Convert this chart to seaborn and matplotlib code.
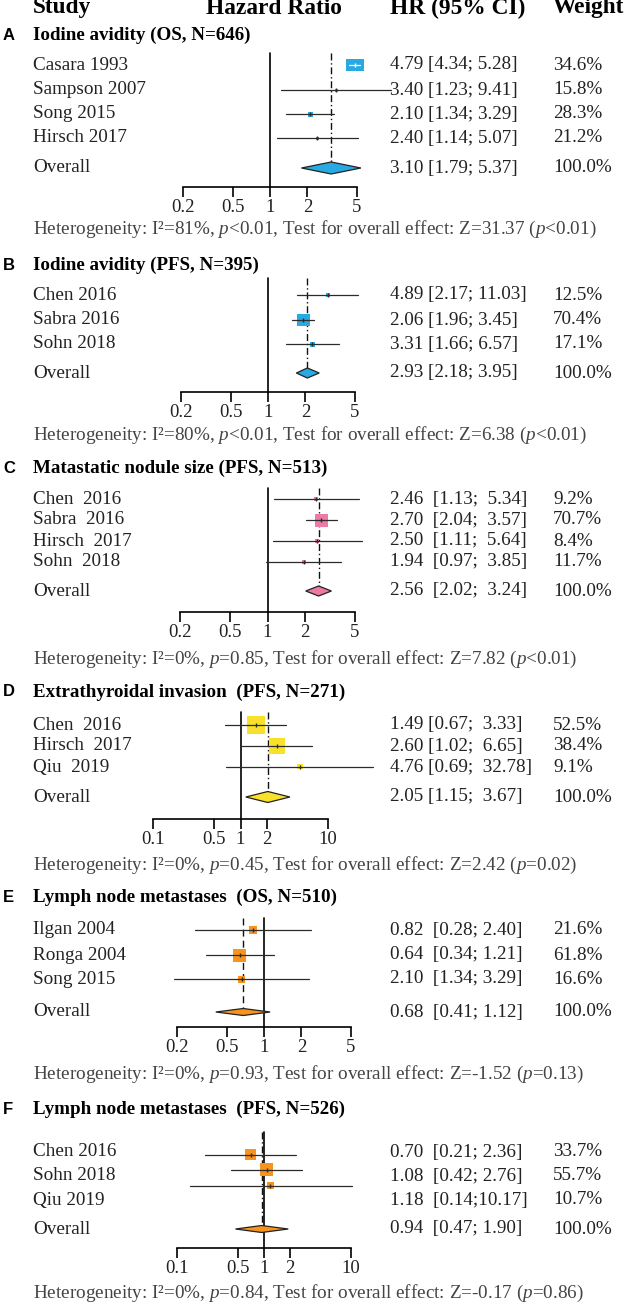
import numpy as np
import matplotlib
matplotlib.use("Agg")
import matplotlib.pyplot as plt
from matplotlib.path import Path
from matplotlib.markers import MarkerStyle
from matplotlib.ticker import NullLocator
import seaborn as sns

# ---------------- data ----------------
# A: Iodine avidity (OS)
studies_a = ["Casara 1993", "Sampson 2007", "Song 2015", "Hirsch 2017"]
est_a = [4.79, 3.40, 2.10, 2.40]
lo_a = [4.34, 1.23, 1.34, 1.14]
hi_a = [5.28, 9.41, 3.29, 5.07]
pool_a = [3.10, 1.79, 5.37]
hr_a = ["4.79 [4.34; 5.28]", "3.40 [1.23; 9.41]", "2.10 [1.34; 3.29]",
        "2.40 [1.14; 5.07]", "3.10 [1.79; 5.37]"]
wt_a = ["34.6%", "15.8%", "28.3%", "21.2%", "100.0%"]
het_a = ["81%", "<0.01", "31.37", "<0.01"]

# B: Iodine avidity (PFS) - marks as drawn in the figure
studies_b = ["Chen 2016", "Sabra 2016", "Sohn 2018"]
est_b = [3.05, 1.92, 2.27]
lo_b = [1.72, 1.57, 1.40]
hi_b = [5.30, 2.36, 3.74]
pool_b = [2.07, 1.69, 2.58]
hr_b = ["4.89 [2.17; 11.03]", "2.06 [1.96; 3.45]", "3.31 [1.66; 6.57]",
        "2.93 [2.18; 3.95]"]
wt_b = ["12.5%", "70.4%", "17.1%", "100.0%"]
het_b = ["80%", "<0.01", "6.38", "<0.01"]

# C: Metastatic nodule size (PFS)
studies_c = ["Chen  2016", "Sabra  2016", "Hirsch  2017", "Sohn  2018"]
est_c = [2.46, 2.70, 2.50, 1.94]
lo_c = [1.13, 2.04, 1.11, 0.97]
hi_c = [5.34, 3.57, 5.64, 3.85]
pool_c = [2.56, 2.02, 3.24]
hr_c = ["2.46  [1.13;  5.34]", "2.70  [2.04;  3.57]", "2.50  [1.11;  5.64]",
        "1.94  [0.97;  3.85]", "2.56  [2.02;  3.24]"]
wt_c = ["9.2%", "70.7%", "8.4%", "11.7%", "100.0%"]
het_c = ["0%", "=0.85", "7.82", "<0.01"]

# D: Extrathyroidal invasion (PFS)
studies_d = ["Chen  2016", "Hirsch  2017", "Qiu  2019"]
est_d = [1.49, 2.60, 4.76]
lo_d = [0.67, 1.02, 0.69]
hi_d = [3.33, 6.65, 32.78]
pool_d = [2.05, 1.15, 3.67]
hr_d = ["1.49 [0.67;  3.33]", "2.60 [1.02;  6.65]", "4.76 [0.69;  32.78]",
        "2.05 [1.15;  3.67]"]
wt_d = ["52.5%", "38.4%", "9.1%", "100.0%"]
het_d = ["0%", "=0.45", "2.42", "=0.02"]

# E: Lymph node metastases (OS) - marks as drawn
studies_e = ["Ilgan 2004", "Ronga 2004", "Song 2015"]
est_e = [0.82, 0.64, 0.66]
lo_e = [0.28, 0.34, 0.19]
hi_e = [2.40, 1.21, 2.30]
pool_e = [0.68, 0.41, 1.12]
hr_e = ["0.82  [0.28; 2.40]", "0.64  [0.34; 1.21]", "2.10  [1.34; 3.29]",
        "0.68  [0.41; 1.12]"]
wt_e = ["21.6%", "61.8%", "16.6%", "100.0%"]
het_e = ["0%", "=0.93", "-1.52", "=0.13"]

# F: Lymph node metastases (PFS)
studies_f = ["Chen 2016", "Sohn 2018", "Qiu 2019"]
est_f = [0.70, 1.08, 1.18]
lo_f = [0.21, 0.42, 0.14]
hi_f = [2.36, 2.76, 10.17]
pool_f = [0.94, 0.47, 1.90]
hr_f = ["0.70  [0.21; 2.36]", "1.08  [0.42; 2.76]", "1.18  [0.14;10.17]",
        "0.94  [0.47; 1.90]"]
wt_f = ["33.7%", "55.7%", "10.7%", "100.0%"]
het_f = ["0%", "=0.84", "-0.17", "=0.86"]

ticks_narrow = [0.2, 0.5, 1, 2, 5]
ticks_wide = [0.1, 0.5, 1, 2, 10]

# ---------------- layout (pixels) ----------------
W, H = 626, 1305
SERIF = "Liberation Serif"
panels = [
    dict(letter="A", title="Iodine avidity (OS, N=646)", title_y=35,
         studies=studies_a, est=est_a, lo=lo_a, hi=hi_a, pool=pool_a, hr=hr_a, wt=wt_a, het=het_a,
         rows=[65, 90, 114, 138], marks=None, overall_y=168, top=53, axis=187, het_y=229,
         px=(183, 357), ticks=ticks_narrow, color="#29A9E1",
         boxes=[(18, 12), (3, 3), (5, 5), (3, 3)], dash=(0, (5, 2, 1, 2)), dh=12),
    dict(letter="B", title="Iodine avidity (PFS, N=395)", title_y=265,
         studies=studies_b, est=est_b, lo=lo_b, hi=hi_b, pool=pool_b, hr=hr_b, wt=wt_b, het=het_b,
         rows=[295, 320, 344], marks=None, overall_y=373, top=278, axis=392, het_y=435,
         px=(181, 355), ticks=ticks_narrow, color="#29A9E1",
         boxes=[(4, 4), (13, 12), (5, 5)], dash=(0, (5, 2, 1, 2)), dh=10),
    dict(letter="C", title="Matastatic nodule size (PFS, N=513)", title_y=468,
         studies=studies_c, est=est_c, lo=lo_c, hi=hi_c, pool=pool_c, hr=hr_c, wt=wt_c, het=het_c,
         rows=[499, 520, 541, 562], marks=None, overall_y=591, top=488, axis=612, het_y=659,
         px=(180, 355), ticks=ticks_narrow, color="#EC79A6",
         boxes=[(4, 4), (13, 13), (4, 4), (4, 4)], dash=(0, (5, 2, 1, 2)), dh=10),
    dict(letter="D", title="Extrathyroidal invasion  (PFS, N=271)", title_y=692,
         studies=studies_d, est=est_d, lo=lo_d, hi=hi_d, pool=pool_d, hr=hr_d, wt=wt_d, het=het_d,
         rows=[725, 746, 767], marks=None, overall_y=797, top=712, axis=819, het_y=865,
         px=(153, 328), ticks=ticks_wide, color="#F9E02B",
         boxes=[(18, 18), (16, 16), (6, 5)], dash=(0, (5, 2, 1, 2)), dh=11),
    dict(letter="E", title="Lymph node metastases  (OS, N=510)", title_y=897,
         studies=studies_e, est=est_e, lo=lo_e, hi=hi_e, pool=pool_e, hr=hr_e, wt=wt_e, het=het_e,
         rows=[930, 955, 979], marks=None, overall_y=1012, top=918, axis=1027, het_y=1074,
         px=(177, 351), ticks=ticks_narrow, color="#F7941D",
         boxes=[(8, 8), (13, 13), (7, 7)], dash=(0, (5, 3)), dh=7),
    dict(letter="F", title="Lymph node metastases  (PFS, N=526)", title_y=1109,
         studies=studies_f, est=est_f, lo=lo_f, hi=hi_f, pool=pool_f, hr=hr_f, wt=wt_f, het=het_f,
         rows=[1152, 1176, 1200], marks=[1155, 1170, 1186], overall_y=1229, top=1132, axis=1248,
         het_y=1293, px=(177, 351), ticks=ticks_wide, color="#F7941D",
         boxes=[(11, 11), (13, 13), (7, 7)], dash=(0, (5, 2, 1, 2)), dh=7),
]

sns.set_theme(style="white")
plt.rcParams["font.family"] = [SERIF, "DejaVu Serif"]
plt.rcParams["mathtext.fontset"] = "custom"
plt.rcParams["mathtext.rm"] = SERIF
plt.rcParams["mathtext.it"] = SERIF + ":italic"

PT = 0.72  # points per pixel at dpi 100
fig = plt.figure(figsize=(W / 100, H / 100), dpi=100)
fig.patch.set_facecolor("white")
TXT = "#222222"
FS = 13.8


def ftext(x, y, s, **kw):
    kw.setdefault("fontsize", FS)
    kw.setdefault("color", TXT)
    kw.setdefault("va", "center")
    fig.text(x / W, 1 - y / H, s, **kw)


def rect_marker(w, h):
    m = max(w, h)
    a, b = w / m, h / m
    return MarkerStyle(Path([(-a, -b), (a, -b), (a, b), (-a, b), (-a, -b)],
                            [Path.MOVETO, Path.LINETO, Path.LINETO, Path.LINETO, Path.CLOSEPOLY]))


# header
ftext(33, 8, "Study", fontsize=16.8, weight="bold", color="black")
ftext(274, 8, "Hazard Ratio", fontsize=16.8, weight="bold", color="black", ha="center")
ftext(390, 8, "HR (95% CI)", fontsize=16.8, weight="bold", color="black")
ftext(553, 8, "Weight", fontsize=16.8, weight="bold", color="black")

for p in panels:
    L, R = p["px"]
    t0, t1 = p["ticks"][0], p["ticks"][-1]
    dec_px = (R - L) / np.log10(t1 / t0)
    ax = fig.add_axes([L / W, 1 - p["axis"] / H, (R - L) / W, (p["axis"] - p["top"]) / H])
    ax.set_facecolor("none")
    ax.set_xscale("log")
    ax.set_xlim(t0, t1)
    ax.set_ylim(p["axis"], p["top"])
    c = p["color"]
    marks = p["marks"] if p["marks"] else p["rows"]

    for est, lo, hi, y, (bw, bh) in zip(p["est"], p["lo"], p["hi"], marks, p["boxes"]):
        half = bw / 2 / dec_px
        inside = lo >= est * 10 ** -half and hi <= est * 10 ** half
        lc = "white" if inside else "#2b2b2b"
        sns.scatterplot(x=[est], y=[y], marker=rect_marker(bw, bh), s=(max(bw, bh) * PT) ** 2,
                        color=c, linewidth=0, edgecolor="none", ax=ax, legend=False,
                        clip_on=False, zorder=3)
        ax.plot([lo, hi], [y, y], color=lc, lw=0.9, clip_on=False, zorder=4)
        ax.plot([est], [y], marker="|", ms=5 * PT, mew=1.0, color=lc, clip_on=False, zorder=5)

    pe, plo, phi = p["pool"]
    yo, dh = p["overall_y"], p["dh"]
    ax.fill([plo, pe, phi, pe], [yo, yo - dh / 2, yo, yo + dh / 2], facecolor=c,
            edgecolor="#222222", lw=0.9, clip_on=False, zorder=3)
    ax.plot([pe, pe], [p["top"], yo - dh / 2], color="#111111", lw=1.0, ls=p["dash"],
            clip_on=False, zorder=2)
    ax.plot([1, 1], [p["top"], p["axis"]], color="black", lw=1.2, clip_on=False, zorder=2)

    for s in ["left", "right", "top"]:
        ax.spines[s].set_visible(False)
    ax.spines["bottom"].set_color("black")
    ax.spines["bottom"].set_linewidth(1.2)
    ax.set_xticks(p["ticks"])
    ax.set_xticklabels([f"{t:g}" for t in p["ticks"]], fontsize=13.5, color=TXT, family=SERIF)
    ax.xaxis.set_minor_locator(NullLocator())
    ax.tick_params(axis="x", direction="out", length=10 * PT, width=1.2, pad=1.5, color="black",
                   bottom=True)
    ax.set_yticks([])
    ax.grid(False)

    # text columns
    ftext(3, p["title_y"], p["letter"], family="Liberation Sans", weight="bold",
          fontsize=12, color="black")
    ftext(33, p["title_y"], p["title"], weight="bold", fontsize=13.7, color="black")
    for name, y in zip(p["studies"] + ["Overall"], p["rows"] + [yo]):
        ftext(33, y, name)
    for hr, wt, y in zip(p["hr"], p["wt"], p["rows"] + [yo]):
        ftext(390, y, hr)
        ftext(553, y, wt)
    i2, ph, z, pz = p["het"]
    ftext(33, p["het_y"],
          f"Heterogeneity: I\u00b2={i2}, $\\mathit{{p}}${ph}, Test for overall effect: "
          f"Z={z} ($\\mathit{{p}}${pz})", color="#444444")

fig.savefig("out.png", dpi=100)
